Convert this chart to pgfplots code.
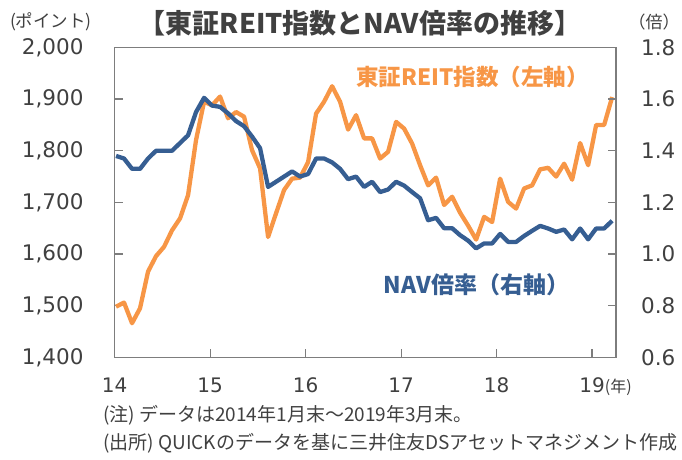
\documentclass[border=0pt]{standalone}
\usepackage{fontspec}
\setmainfont{Noto Sans CJK JP}
\newfontfamily\numfont{DejaVu Sans}
\usepackage{pgfplots}
\pgfplotsset{compat=1.18}
\usepackage{pgfplotstable}
\definecolor{reitorange}{RGB}{247,150,70}
\definecolor{navblue}{RGB}{54,94,146}
\definecolor{txt}{RGB}{64,64,64}
\definecolor{axgray}{RGB}{125,125,125}

\pgfplotstableread{
i reit nav
0 1498 1.380
1 1506 1.370
2 1466 1.330
3 1495 1.330
4 1566 1.370
5 1596 1.400
6 1614 1.400
7 1646 1.400
8 1669 1.430
9 1714 1.460
10 1821 1.550
11 1895 1.605
12 1888 1.575
13 1905 1.570
14 1863 1.545
15 1875 1.515
16 1866 1.495
17 1801 1.455
18 1766 1.410
19 1633 1.260
20 1679 1.280
21 1724 1.300
22 1746 1.320
23 1748 1.300
24 1778 1.310
25 1872 1.370
26 1895 1.370
27 1925 1.355
28 1895 1.330
29 1841 1.290
30 1869 1.300
31 1824 1.260
32 1824 1.280
33 1785 1.240
34 1798 1.250
35 1856 1.280
36 1843 1.265
37 1814 1.240
38 1772 1.216
39 1733 1.131
40 1748 1.140
41 1695 1.100
42 1711 1.100
43 1680 1.073
44 1655 1.052
45 1628 1.022
46 1672 1.041
47 1662 1.041
48 1746 1.078
49 1701 1.047
50 1688 1.047
51 1727 1.070
52 1733 1.090
53 1764 1.109
54 1767 1.099
55 1750 1.086
56 1775 1.095
57 1744 1.057
58 1815 1.099
59 1772 1.057
60 1850 1.099
61 1850 1.099
62 1904 1.129
}\data

\begin{document}
\begin{tikzpicture}
\useasboundingbox (0pt,0pt) rectangle (682pt,459pt);
\pgfplotsset{
  common/.style={
    at={(114.7pt,101.7pt)}, anchor=south west,
    scale only axis, width=501.3pt, height=309.8pt,
    xmin=14, xmax=19.25,
    axis line style={draw=axgray, line width=1.4pt},
    tick style={draw=axgray, line width=1.3pt},
    major tick length=8pt,
    tick align=inside,
    /pgf/number format/assume math mode=true,
    clip=false,
  }
}
\begin{axis}[common,
  ymin=1400, ymax=2000,
  ytick={1400,1500,1600,1700,1800,1900,2000},
  xtick={14,15,16,17,18,19},
  xticklabels={14,15,16,17,18,{19\rlap{\rmfamily\fontsize{16}{16}\selectfont\color{txt}(年)}}},
  ytick pos=left, xtick pos=bottom,
  yticklabel style={font=\numfont\fontsize{21.5}{21.5}\selectfont, text=txt, inner sep=0pt, anchor=east, xshift=-31pt,
    /pgf/number format/.cd, 1000 sep={,}},
  xticklabel style={font=\numfont\fontsize{20}{20}\selectfont, text=txt, inner sep=0pt, anchor=base, yshift=-35pt},
]
\addplot[reitorange, line width=4.3pt, line join=round, no markers]
  table[x expr=14.014+\coordindex*0.0838, y=reit]{\data};
\end{axis}
\begin{axis}[common,
  ymin=0.6, ymax=1.8,
  ytick={0.6,0.8,1.0,1.2,1.4,1.6,1.8},
  axis y line*=right, axis x line=none,
  yticklabel style={font=\numfont\fontsize{21.5}{21.5}\selectfont, text=txt, inner sep=0pt, anchor=west, xshift=25pt,
    /pgf/number format/.cd, fixed, fixed zerofill, precision=1},
]
\addplot[navblue, line width=4.3pt, line join=round, no markers]
  table[x expr=14.014+\coordindex*0.0838, y=nav]{\data};
\end{axis}
\node[text=txt, font=\bfseries\fontsize{27}{27}\selectfont] at (360pt,436pt) {【東証REIT指数とNAV倍率の推移】};
\node[text=txt, font=\fontsize{17.5}{17.5}\selectfont] at (51pt,437pt) {(ポイント)};
\node[text=txt, font=\fontsize{17}{17}\selectfont] at (654pt,437pt) {（倍）};
\node[text=reitorange, font=\bfseries\fontsize{22.5}{22.5}\selectfont] at (472.5pt,382.3pt) {東証REIT指数（左軸）};
\node[text=navblue, font=\bfseries\fontsize{23}{23}\selectfont] at (476.5pt,174pt) {NAV倍率（右軸）};
\node[text=txt, font=\fontsize{19}{19}\selectfont, anchor=west, inner sep=0pt] at (103pt,44pt) {(注) データは2014年1月末～2019年3月末。};
\node[text=txt, font=\fontsize{19}{19}\selectfont, anchor=west, inner sep=0pt] at (103pt,16pt) {(出所) QUICKのデータを基に三井住友DSアセットマネジメント作成};
\end{tikzpicture}
\end{document}
